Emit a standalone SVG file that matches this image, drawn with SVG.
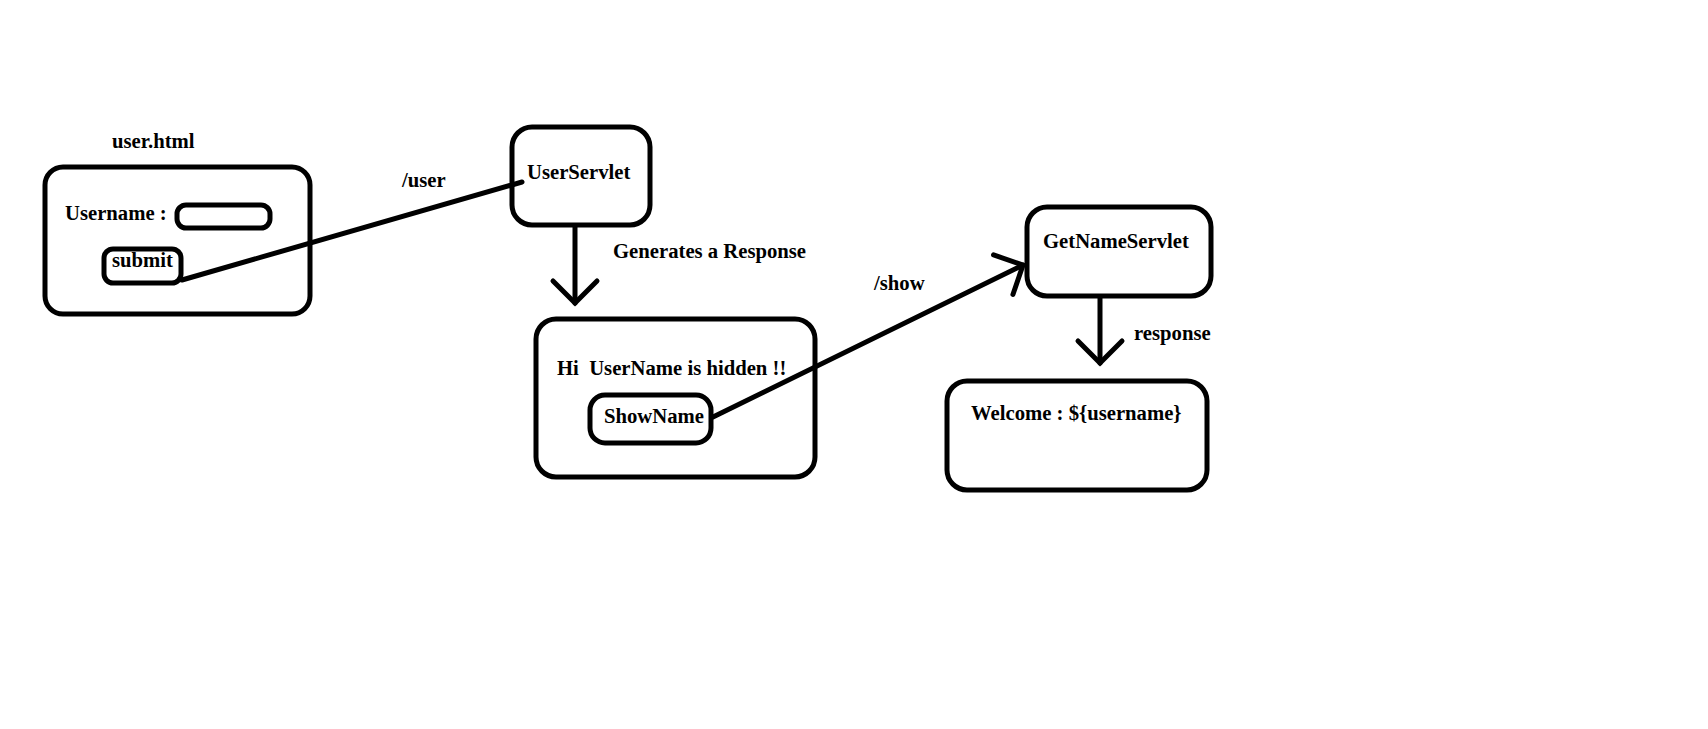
<svg xmlns="http://www.w3.org/2000/svg" width="1708" height="729" viewBox="0 0 1708 729">
<style>
  .box { fill: none; stroke: #000; stroke-width: 5; }
  .t { font-family: "Liberation Serif", "Times New Roman", serif; font-weight: bold; font-size: 20.7px; fill: #000; }
  .conn { fill: none; stroke: #000; stroke-width: 5; stroke-linecap: round; }
</style>
<defs>
  <marker id="arrow" markerUnits="userSpaceOnUse" orient="auto" refX="0" refY="0" markerWidth="40" markerHeight="40" overflow="visible">
    <path d="M-22,-22 L0,0 L-22,22" fill="none" stroke="#000" stroke-width="5" stroke-linecap="round" stroke-linejoin="miter"/>
  </marker>
</defs>
<rect width="1708" height="729" fill="#fff"/>

<g id="user-html">
  <text class="t" x="112" y="148">user.html</text>
  <rect class="box" x="45" y="167" width="265" height="147" rx="18"/>
  <text class="t" x="65" y="220">Username :</text>
  <g id="username-input">
    <rect class="box" x="177" y="205" width="93" height="23" rx="9"/>
  </g>
  <g id="submit">
    <rect class="box" x="104" y="249" width="77" height="34" rx="9"/>
    <text class="t" x="112" y="267">submit</text>
  </g>
</g>

<g id="userservlet">
  <rect class="box" x="512" y="127" width="138" height="98" rx="20"/>
  <text class="t" x="527" y="179">UserServlet</text>
</g>

<g id="response-page">
  <rect class="box" x="536" y="319" width="279" height="158" rx="20"/>
  <text class="t" x="557" y="375" xml:space="preserve">Hi  UserName is hidden !!</text>
  <g id="showname">
    <rect class="box" x="590" y="395" width="121" height="48" rx="15"/>
    <text class="t" x="604" y="423">ShowName</text>
  </g>
</g>

<g id="getnameservlet">
  <rect class="box" x="1027" y="207" width="184" height="89" rx="20"/>
  <text class="t" x="1043" y="248">GetNameServlet</text>
</g>

<g id="welcome">
  <rect class="box" x="947" y="381" width="260" height="109" rx="20"/>
  <text class="t" x="971" y="420">Welcome : ${username}</text>
</g>

<g id="connectors">
  <line class="conn" x1="182" y1="280" x2="522" y2="182"/>
  <text class="t" x="402" y="187">/user</text>

  <line class="conn" x1="575" y1="227" x2="575" y2="303" marker-end="url(#arrow)"/>
  <text class="t" x="613" y="258">Generates a Response</text>

  <line class="conn" x1="713" y1="417" x2="1023" y2="265" marker-end="url(#arrow)"/>
  <text class="t" x="874" y="290">/show</text>

  <line class="conn" x1="1100" y1="298" x2="1100" y2="363" marker-end="url(#arrow)"/>
  <text class="t" x="1134" y="340">response</text>
</g>
</svg>
